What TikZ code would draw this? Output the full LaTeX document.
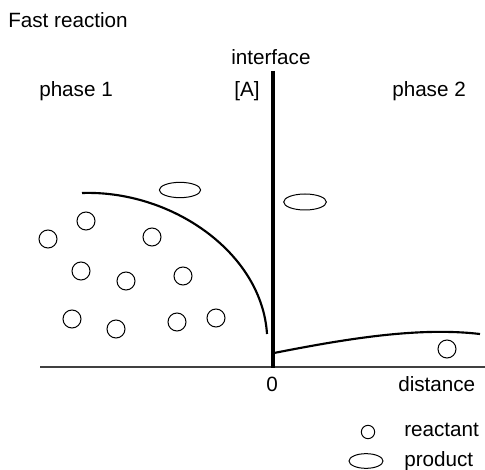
\documentclass[tikz,border=0pt]{standalone}
\usepackage{fontspec}
\setmainfont{Liberation Sans}
\usetikzlibrary{shapes.geometric}
\begin{document}
\begin{tikzpicture}[x=0.75pt,y=-0.75pt,
  lbl/.style={inner sep=0pt,anchor=base west,font=\fontsize{15.5}{18}\selectfont},
  reactant/.style={circle,draw,line width=0.75pt,minimum size=13.5pt,inner sep=0pt},
  product/.style={ellipse,draw,line width=0.75pt,minimum width=31pt,minimum height=11.5pt,inner sep=0pt},
  curve/.style={line width=1.6pt}]
\useasboundingbox (0,0) rectangle (485,470);
% texts
\node[lbl] (title) at (8,27.7) {Fast reaction};
\node[lbl] (iface) at (231,65) {interface};
\node[lbl] (ph1) at (39,97) {phase 1};
\node[lbl] (A) at (234,97) {[A]};
\node[lbl] (ph2) at (392,97) {phase 2};
\node[lbl] (zero) at (266,391) {0};
\node[lbl] (dist) at (398,391) {distance};
\node[lbl] (lr) at (404,436) {reactant};
\node[lbl] (lp) at (404,466) {product};
% axes
\coordinate (itop) at (273,71);
\coordinate (ibot) at (273,368);
\coordinate (ax0) at (40,367);
\coordinate (ax1) at (485,367);
\draw[line width=0.9pt,black!75] (ax0) -- (ax1);
\draw[line width=2.3pt] (itop) -- (ibot);
% curves
\coordinate (c1s) at (82,193);
\coordinate (c1e) at (267,334);
\draw[curve] (c1s) .. controls (172,190) and (262,253) .. (c1e);
\coordinate (c2s) at (274,353);
\coordinate (c2e) at (480,334);
\draw[curve] (c2s) .. controls (350,338) and (420,327) .. (c2e);
% reactants
\node[reactant] (r1) at (48,239) {};
\node[reactant] (r2) at (86,221) {};
\node[reactant] (r3) at (152,237) {};
\node[reactant] (r4) at (81,271) {};
\node[reactant] (r5) at (126,281) {};
\node[reactant] (r6) at (183,276) {};
\node[reactant] (r7) at (72,319) {};
\node[reactant] (r8) at (116,329) {};
\node[reactant] (r9) at (177,322) {};
\node[reactant] (r10) at (216,318) {};
\node[reactant] (r11) at (447,349) {};
% products
\node[product] (p1) at (180,190) {};
\node[product,minimum width=32pt,minimum height=12pt] (p2) at (305,202) {};
% legend
\node[reactant,minimum size=10pt] (lgr) at (368,432) {};
\node[product,minimum width=25.5pt,minimum height=11pt] (lgp) at (366,461) {};
\end{tikzpicture}
\end{document}
